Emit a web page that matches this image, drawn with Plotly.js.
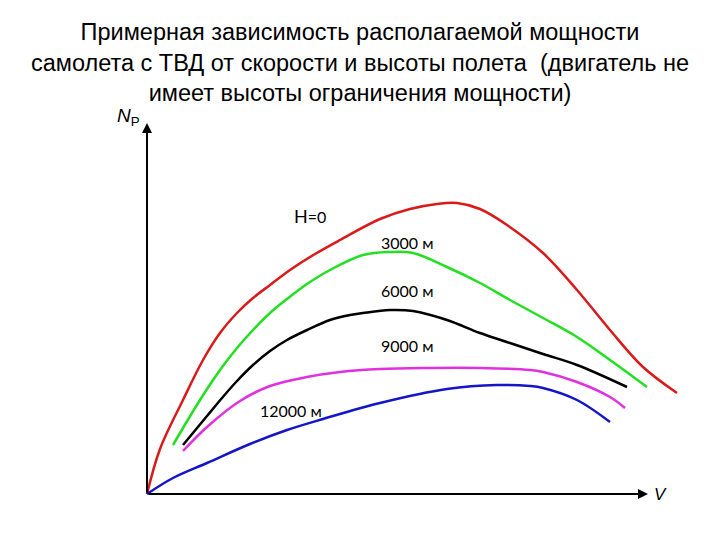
<!DOCTYPE html>
<html><head><meta charset="utf-8">
<script src="https://cdn.plot.ly/plotly-3.0.1.min.js"></script>
<style>html,body{margin:0;padding:0;background:#fff}#chart{width:720px;height:540px}</style>
</head><body><div id="chart"></div>
<script>
// Values in arbitrary units: V (speed) and N (available power), origin at axes crossing
const v_H0    = [0, 13, 36, 56, 73, 90, 106, 123, 143, 168, 193, 233, 263, 290, 310, 333, 360, 396, 430, 463, 496, 530];
const n_H0    = [0, 45, 94, 134, 161, 181, 196, 209, 224, 240, 254, 275, 285, 290, 291, 285, 269, 241, 204, 164, 127, 101];
const v_3000  = [26, 53, 73, 90, 106, 123, 140, 160, 183, 216, 243, 266, 300, 333, 363, 396, 430, 463, 500];
const n_3000  = [49, 94, 124, 146, 164, 181, 195, 210, 224, 239, 242, 241, 227, 211, 194, 176, 157, 134, 107];
const v_6000  = [36, 60, 75, 90, 106, 123, 140, 160, 183, 203, 216, 243, 266, 300, 333, 363, 396, 430, 480];
const n_6000  = [49, 78, 96, 113, 129, 143, 154, 164, 174, 179, 181, 184, 183, 174, 161, 151, 140, 129, 107];
const v_9000  = [36, 60, 93, 123, 160, 193, 233, 283, 333, 383, 396, 430, 463, 478];
const n_9000  = [43, 67, 93, 108, 117, 122, 125, 126, 126, 124, 122, 112, 97, 86];
const v_12000 = [0, 26, 60, 103, 140, 176, 233, 300, 350, 383, 396, 430, 463];
const n_12000 = [0, 16, 31, 50, 64, 75, 91, 105, 109, 108, 106, 94, 72];

const series = [
  {v: v_H0, n: n_H0, color: '#d91a1a'},
  {v: v_3000, n: n_3000, color: '#22e01f'},
  {v: v_6000, n: n_6000, color: '#000000'},
  {v: v_9000, n: n_9000, color: '#e030e0'},
  {v: v_12000, n: n_12000, color: '#1515c8'}
];

const traces = series.map(s => ({
  x: s.v, y: s.n, mode: 'lines', type: 'scatter',
  line: {color: s.color, width: 2.5, shape: 'spline', smoothing: 1, simplify: false},
  hoverinfo: 'skip', showlegend: false
}));

const lblFont = {family: 'Lato, "Open Sans", sans-serif', size: 16, color: '#000'};
const annotations = [
  // axes with arrows
  {x: 0, y: 371, ax: 0, ay: 0, xref: 'x', yref: 'y', axref: 'x', ayref: 'y', text: '',
   showarrow: true, arrowhead: 2, arrowsize: 1, arrowwidth: 2, arrowcolor: '#000'},
  {x: 501, y: 0, ax: 0, ay: 0, xref: 'x', yref: 'y', axref: 'x', ayref: 'y', text: '',
   showarrow: true, arrowhead: 2, arrowsize: 1, arrowwidth: 2, arrowcolor: '#000'},
  {x: -19, y: 377, xref: 'x', yref: 'y', showarrow: false,
   text: '<i>N</i><sub>P</sub>', font: {family: '"Liberation Sans", Arial, sans-serif', size: 19, color: '#000'}},
  {x: 513, y: 0, xref: 'x', yref: 'y', showarrow: false, xanchor: 'center',
   text: '<i>V</i>', font: {family: '"Liberation Sans", Arial, sans-serif', size: 17, color: '#000'}},
  {x: 163, y: 278, xref: 'x', yref: 'y', showarrow: false,
   text: '<span style="font-size:18px">H</span>=0', font: lblFont},
  {x: 260, y: 252, xref: 'x', yref: 'y', showarrow: false, text: '3000 м', font: lblFont},
  {x: 260, y: 204, xref: 'x', yref: 'y', showarrow: false, text: '6000 м', font: lblFont},
  {x: 260, y: 149, xref: 'x', yref: 'y', showarrow: false, text: '9000 м', font: lblFont},
  {x: 144, y: 84, xref: 'x', yref: 'y', showarrow: false, text: '12000 м', font: lblFont}
];

const layout = {
  width: 720, height: 540,
  margin: {l: 0, r: 0, t: 0, b: 0},
  paper_bgcolor: '#fff', plot_bgcolor: '#fff',
  title: {
    text: 'Примерная зависимость располагаемой мощности<br>самолета с ТВД от скорости и высоты полета  (двигатель не<br>имеет высоты ограничения мощности)',
    font: {family: '"Liberation Sans", Arial, sans-serif', size: 23.5, color: '#000'},
    x: 0.5, xanchor: 'center', xref: 'paper', yref: 'container', y: 0.926, yanchor: 'middle'
  },
  xaxis: {range: [-147, 573], visible: false, fixedrange: true},
  yaxis: {range: [-46, 494], visible: false, fixedrange: true},
  annotations: annotations
};

Plotly.newPlot('chart', traces, layout, {displayModeBar: false, staticPlot: true});
</script>
</body></html>
